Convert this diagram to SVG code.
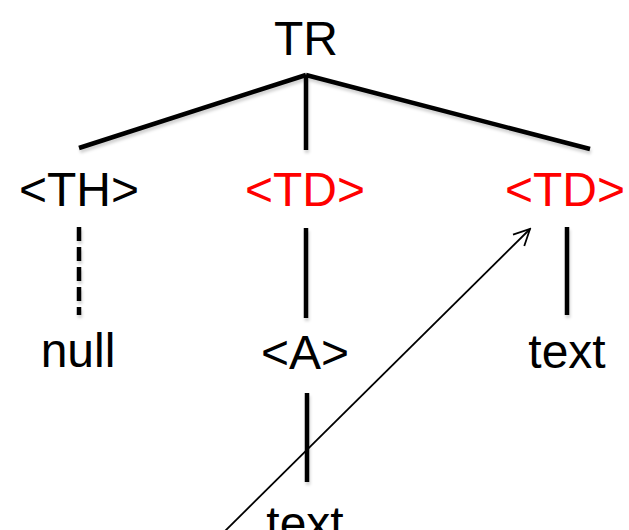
<svg xmlns="http://www.w3.org/2000/svg" width="629" height="530" viewBox="0 0 629 530">
  <style>
    .lbl { font-family: "Liberation Sans", Arial, sans-serif; font-size: 48px; text-anchor: middle; fill: #000; }
    .red { fill: #ff0000; }
    .edge { stroke: #000; stroke-width: 4.5; fill: none; stroke-linecap: butt; }
    .dash { stroke-dasharray: 14 6; }
    .pointer { stroke: #000; stroke-width: 1.8; fill: none; }
  </style>
  <defs>
    <filter id="soft" x="-10%" y="-10%" width="120%" height="140%">
      <feDropShadow dx="1" dy="3" stdDeviation="1.5" flood-color="#000" flood-opacity="0.18"/>
    </filter>
    <marker id="open-arrow" viewBox="0 0 20 20" refX="18" refY="10" markerWidth="20" markerHeight="20" markerUnits="userSpaceOnUse" orient="auto">
      <path d="M2,2 L18,10 L2,18" fill="none" stroke="#000" stroke-width="1.8"/>
    </marker>
  </defs>

  <rect width="629" height="530" fill="#fff"/>

  <!-- tree edges -->
  <g id="connectors" filter="url(#soft)">
    <path class="edge" d="M306,75 L79,148"/>
    <path class="edge" d="M306,75 L590,149"/>
    <path class="edge" d="M306,75 L306,150"/>
    <path class="edge dash" d="M79,227 L79,315"/>
    <path class="edge" d="M306,228 L306,318"/>
    <path class="edge" d="M567,227 L567,315"/>
    <path class="edge" d="M307,393 L307,482"/>
  </g>

  <!-- nodes -->
  <g id="tr"><text class="lbl" x="306" y="55">TR</text></g>
  <g id="th"><text class="lbl" x="79" y="206">&lt;TH&gt;</text></g>
  <g id="td1"><text class="lbl red" x="305" y="206">&lt;TD&gt;</text></g>
  <g id="td2"><text class="lbl red" x="565" y="206">&lt;TD&gt;</text></g>
  <g id="null"><text class="lbl" x="78" y="367">null</text></g>
  <g id="a"><text class="lbl" x="305" y="369">&lt;A&gt;</text></g>
  <g id="text1"><text class="lbl" x="567" y="368">text</text></g>
  <g id="text2"><text class="lbl" x="305" y="540">text</text></g>

  <!-- pointer arrow -->
  <g id="pointer">
    <path class="pointer" d="M224,532 L530,229" marker-end="url(#open-arrow)"/>
  </g>
</svg>
